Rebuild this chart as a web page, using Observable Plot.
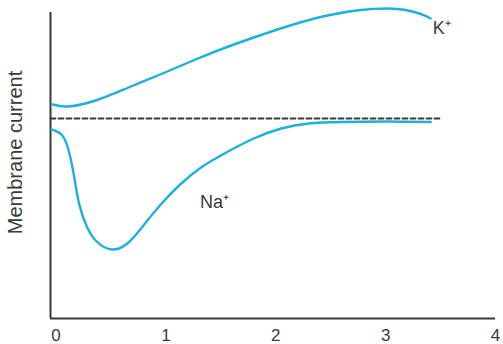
<!DOCTYPE html>
<html>
<head>
<meta charset="utf-8">
<script src="https://cdn.jsdelivr.net/npm/d3@7"></script>
<script src="https://cdn.jsdelivr.net/npm/@observablehq/plot@0.6"></script>
<style>
  html, body { margin: 0; padding: 0; background: #fff; }
  #chart svg { display: block; }
</style>
</head>
<body>
<div id="chart"></div>
<script>
// Time axis ticks
const xTicks = [0, 1, 2, 3, 4];

// K+ current (time, current; baseline = 0)
const kTime    = [-0.03, 0.11, 0.36, 0.66, 0.97, 1.27, 1.57, 1.88, 2.16, 2.47, 2.77, 3.02, 3.18, 3.32, 3.41];
const kCurrent = [1.4, 1.2, 1.8, 3.1, 4.5, 5.9, 7.2, 8.4, 9.4, 10.3, 10.85, 11.0, 10.85, 10.45, 10.0];

// Na+ current
const naTime    = [-0.04, 0.05, 0.11, 0.16, 0.21, 0.28, 0.37, 0.51, 0.66, 0.81, 0.97, 1.13, 1.32, 1.55, 1.80, 2.05, 2.30, 2.60, 3.00, 3.41];
const naCurrent = [-1.1, -1.6, -3.0, -5.5, -8.5, -10.8, -12.3, -13.1, -12.4, -10.5, -8.4, -6.6, -4.9, -3.4, -2.0, -1.0, -0.5, -0.35, -0.3, -0.35];

// Baseline (dashed) extent
const baselineX = [-0.05, 3.5];
const baselineY = 0;

// Ion labels
const ionLabels = [
  {x: 3.43, y: 8.5, text: "K⁺"},
  {x: 1.31, y: -8.9, text: "Na⁺"}
];

const yLabel = "Membrane current";
const xDomain = [-0.05, 4.0];
const yDomain = [-20, 11];

const kData = kTime.map((t, i) => ({t, v: kCurrent[i]}));
const naData = naTime.map((t, i) => ({t, v: naCurrent[i]}));
const baseData = baselineX.map(t => ({t, v: baselineY}));

const curveColor = "#1cb0da";
const ink = "#3a3a3a";

const chart = Plot.plot({
  width: 503,
  height: 344,
  marginLeft: 50,
  marginRight: 8,
  marginTop: 8,
  marginBottom: 26,
  style: {fontFamily: "'Liberation Sans', Arial, sans-serif", color: ink, background: "#fff"},
  x: {domain: xDomain, axis: null},
  y: {domain: yDomain, axis: null},
  marks: [
    Plot.axisX({ticks: xTicks, tickSize: 0, tickPadding: 10, fontSize: 17, label: null, tickFormat: d => String(d)}),
    Plot.ruleX([xDomain[0]], {y1: yDomain[0], y2: 10.6, stroke: ink, strokeWidth: 2}),
    Plot.ruleY([yDomain[0]], {x1: xDomain[0], x2: xDomain[1], stroke: ink, strokeWidth: 2}),
    Plot.line(baseData, {x: "t", y: "v", stroke: ink, strokeWidth: 1.8, strokeDasharray: "5,3"}),
    Plot.line(kData, {x: "t", y: "v", stroke: curveColor, strokeWidth: 2.4, curve: "natural"}),
    Plot.line(naData, {x: "t", y: "v", stroke: curveColor, strokeWidth: 2.4, curve: "natural"}),
    Plot.text(ionLabels, {x: "x", y: "y", text: "text", textAnchor: "start", lineAnchor: "bottom", fontSize: 18, fill: ink}),
    Plot.text([yLabel], {frameAnchor: "left", textAnchor: "middle", text: d => d, rotate: -90, dx: -35, dy: -11, fontSize: 20, fill: ink})
  ]
});
document.getElementById("chart").appendChild(chart);
</script>
</body>
</html>
